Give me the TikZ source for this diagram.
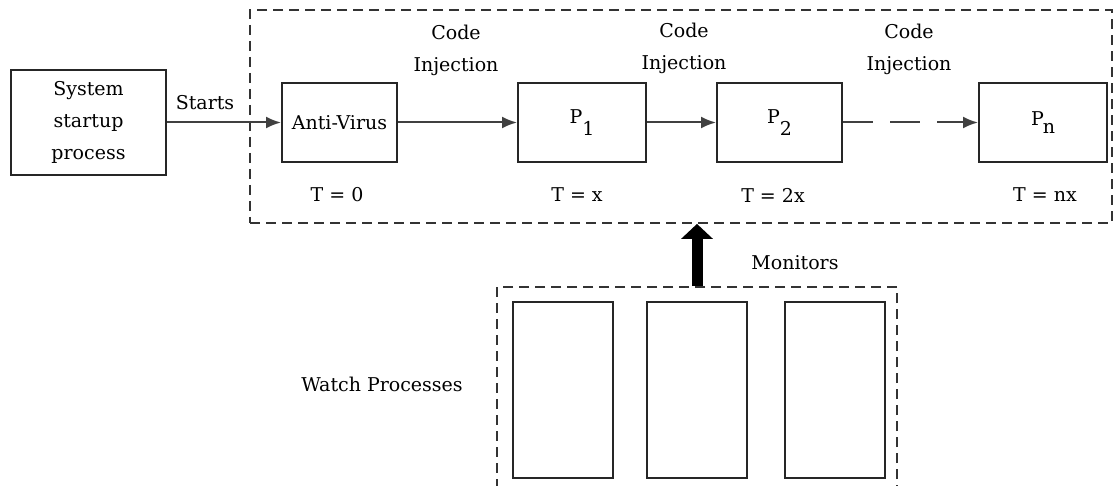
\documentclass[tikz,border=0pt]{standalone}
\usepackage{fontspec}
\setmainfont{DejaVu Serif}
\usetikzlibrary{arrows.meta}
\tikzset{
  box/.style={draw=black!85, line width=2pt, rectangle, inner sep=0pt},
  dashbox/.style={draw=black!80, line width=1.8pt, dash pattern=on 10pt off 6pt, rectangle, inner sep=0pt},
  lbl/.style={inner sep=0pt, align=center, text=black, font=\fontsize{19}{32}\selectfont},
  conn/.style={draw=black!75, line width=2pt, -{Latex[length=15pt,width=12pt]}},
  dconn/.style={conn, dash pattern=on 30pt off 17pt},
  bigarrow/.style={draw=black, line width=11pt, -{Triangle[length=15pt,width=31pt]}}
}
\begin{document}
\begin{tikzpicture}[x=1pt,y=-1pt]
\clip (0,0) rectangle (1115,486);
\fill[white] (0,0) rectangle (1115,486);
% groups
\node[dashbox, minimum width=862pt, minimum height=213pt] (group) at (681,116.5) {};
\node[dashbox, minimum width=400pt, minimum height=240pt] (watch) at (697,407) {};
% boxes
\node[box, lbl, minimum width=155pt, minimum height=105pt] (sys) at (88.5,122.5) {System\\startup\\process};
\node[box, lbl, minimum width=115pt, minimum height=79pt] (av) at (339.5,122.5) {Anti-Virus};
\node[box, lbl, minimum width=128pt, minimum height=79pt] (p1) at (582,122.5) {P\raisebox{-12pt}{1}};
\node[box, lbl, minimum width=125pt, minimum height=79pt] (p2) at (779.5,122.5) {P\raisebox{-12pt}{2}};
\node[box, lbl, minimum width=128pt, minimum height=79pt] (pn) at (1043,122.5) {P\kern-1pt\raisebox{-8pt}{n}};
% watch processes
\node[box, minimum width=100pt, minimum height=176pt] (w1) at (563,390) {};
\node[box, minimum width=100pt, minimum height=176pt] (w2) at (697,390) {};
\node[box, minimum width=100pt, minimum height=176pt] (w3) at (835,390) {};
% labels
\node[lbl] (starts) at (205,103) {Starts};
\node[lbl] (ci1) at (456,50) {Code\\Injection};
\node[lbl] (ci2) at (684,48) {Code\\Injection};
\node[lbl] (ci3) at (909,49) {Code\\Injection};
\node[lbl] (t0) at (337,195) {T = 0};
\node[lbl] (t1) at (577,195) {T = x};
\node[lbl] (t2) at (773,195) {T = 2x};
\node[lbl] (tn) at (1045,195) {T = nx};
\node[lbl] (wp) at (382,384) {Watch Processes};
\node[lbl] (mon) at (795,263) {Monitors};
% connectors
\draw[conn] (sys.east) -- (av.west);
\draw[conn] (av.east) -- (p1.west);
\draw[conn] (p1.east) -- (p2.west);
\draw[dconn] (p2.east) -- (pn.west);
\draw[bigarrow] (watch.north) -- (watch.north |- group.south);
\end{tikzpicture}
\end{document}
